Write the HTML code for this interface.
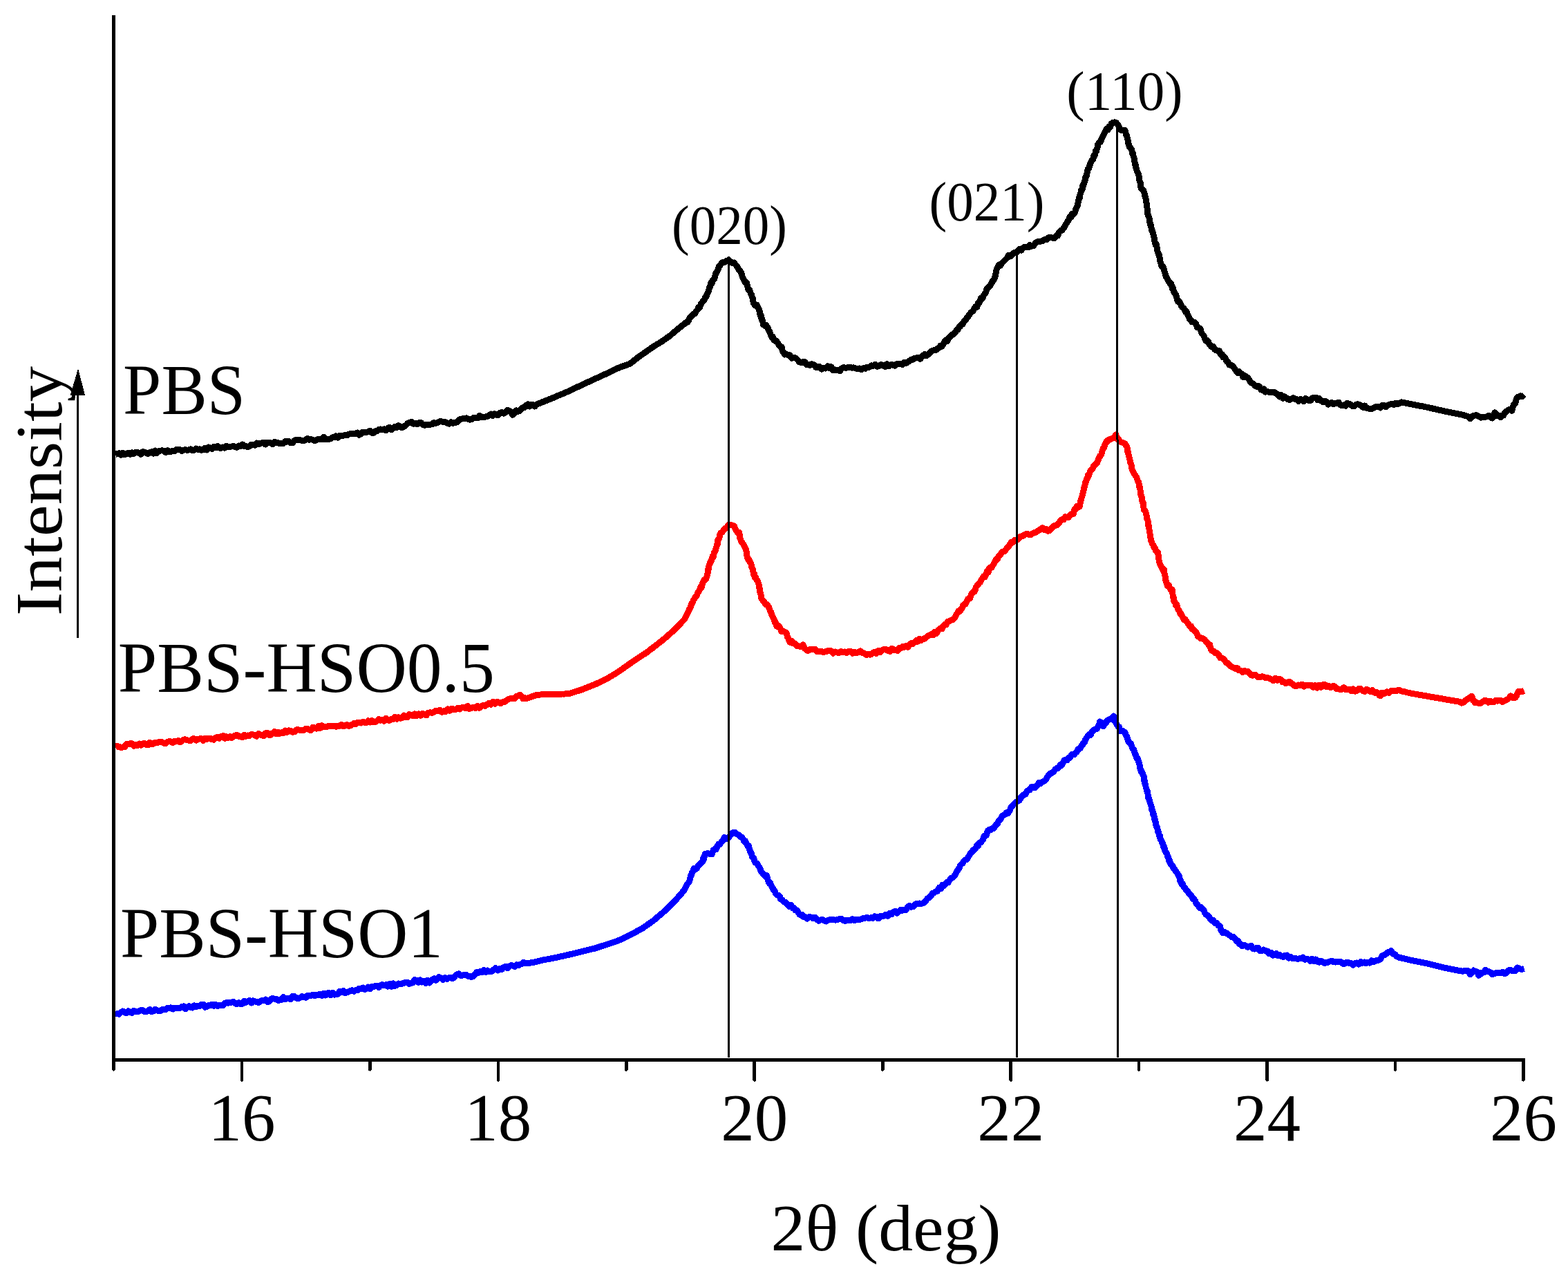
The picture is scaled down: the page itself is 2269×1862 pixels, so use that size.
<!DOCTYPE html>
<html><head><meta charset="utf-8"><style>
html,body{margin:0;padding:0;background:#fff;}
svg{display:block;}
text{font-family:"Liberation Serif","DejaVu Serif",serif;fill:#000;}
.tl{font-size:97px;}
.cl{font-size:103px;}
.pk{font-size:80px;}
</style></head><body>
<svg width="2269" height="1862" viewBox="0 0 2269 1862" shape-rendering="crispEdges">
<rect width="2269" height="1862" fill="#fff"/>
<g fill="none" stroke-linejoin="round" stroke-linecap="butt" stroke-width="9.0">
<path stroke="#000" d="M167.0,657.3 L169.7,656.5 L172.3,655.8 L175.0,658.0 L177.7,655.4 L180.4,657.5 L183.1,656.7 L185.7,655.4 L188.4,657.3 L191.0,655.0 L193.5,656.5 L196.1,654.6 L198.7,654.4 L201.3,655.6 L203.8,657.2 L206.4,653.8 L209.0,654.0 L211.6,655.5 L214.1,656.6 L216.7,654.7 L219.3,653.8 L221.9,656.2 L224.4,652.0 L227.0,655.5 L229.6,652.8 L232.2,652.1 L234.8,651.8 L237.4,652.5 L239.9,654.6 L242.5,651.7 L245.1,653.4 L247.7,653.4 L250.2,652.1 L252.8,652.6 L255.4,650.3 L258.0,650.1 L260.5,650.6 L263.1,652.5 L265.7,651.2 L268.3,650.5 L270.8,651.5 L273.4,650.7 L276.0,649.8 L278.6,651.8 L281.1,651.2 L283.7,649.0 L286.3,650.3 L288.9,649.9 L291.5,651.2 L294.1,650.4 L296.6,648.2 L299.2,651.1 L301.8,647.1 L304.4,648.2 L306.9,649.4 L309.5,646.5 L312.1,647.7 L314.7,645.5 L317.2,648.0 L319.8,648.1 L322.4,647.0 L325.0,648.1 L327.5,645.3 L330.1,646.8 L332.7,646.2 L335.3,646.0 L337.8,645.3 L340.4,646.9 L343.0,647.2 L345.6,645.0 L348.2,645.7 L350.8,642.9 L353.3,645.6 L355.9,645.3 L358.5,646.7 L361.1,645.7 L363.7,643.0 L366.2,643.2 L368.8,644.2 L371.4,641.1 L374.0,642.8 L376.6,641.3 L379.2,640.8 L381.7,640.3 L384.3,643.1 L386.9,640.1 L389.5,640.4 L392.0,640.8 L394.6,642.7 L397.2,639.1 L399.8,640.5 L402.3,640.7 L404.9,642.0 L407.5,641.5 L410.1,641.5 L412.6,638.7 L415.2,639.1 L418.0,638.6 L420.7,640.7 L423.5,640.8 L426.2,637.0 L429.0,636.9 L431.7,636.9 L434.5,636.6 L437.2,637.5 L440.0,637.7 L442.6,636.0 L445.2,634.6 L447.7,636.2 L450.3,635.7 L452.9,636.3 L455.5,637.7 L458.1,636.3 L460.7,635.3 L463.2,635.4 L465.8,635.4 L468.4,632.4 L471.0,635.9 L473.5,635.1 L476.1,635.3 L478.7,634.7 L481.3,632.7 L483.8,632.4 L486.4,630.9 L489.0,633.0 L491.6,630.2 L494.1,630.0 L496.7,630.3 L499.3,629.7 L501.9,630.0 L504.4,628.3 L507.0,627.6 L509.6,627.8 L512.2,627.1 L514.8,627.8 L517.4,625.9 L519.9,629.2 L522.5,627.6 L525.1,625.1 L527.7,625.1 L530.2,625.2 L532.8,624.9 L535.4,623.4 L538.0,626.2 L540.5,626.5 L543.1,623.8 L545.7,623.5 L548.3,621.3 L550.8,621.0 L553.4,621.7 L556.0,620.8 L558.6,622.8 L561.1,619.4 L563.7,618.2 L566.3,621.8 L568.9,619.4 L571.5,617.2 L574.1,618.4 L576.6,615.7 L579.2,617.3 L581.8,618.8 L584.6,617.1 L587.5,615.1 L590.3,612.0 L593.1,611.2 L595.8,610.5 L598.5,613.3 L601.1,612.4 L603.8,613.7 L606.5,611.8 L609.2,611.5 L611.8,614.3 L614.5,615.2 L617.2,614.8 L619.9,614.4 L622.5,614.3 L625.2,613.7 L627.9,611.3 L630.5,612.4 L633.2,611.5 L635.8,609.9 L638.5,609.7 L641.3,610.7 L644.2,610.4 L647.0,612.2 L649.9,613.2 L652.7,610.8 L655.5,612.2 L658.4,611.7 L661.2,610.9 L664.1,607.6 L666.9,606.3 L669.5,605.9 L672.2,605.3 L674.9,604.9 L677.5,606.3 L680.1,607.1 L682.8,606.4 L685.5,604.3 L688.1,604.7 L691.1,604.9 L694.0,601.3 L697.0,603.4 L700.0,604.0 L702.6,603.0 L705.3,602.4 L707.9,600.8 L710.5,599.0 L713.1,601.3 L715.8,598.8 L718.4,600.4 L721.1,600.5 L723.7,597.2 L726.4,596.5 L729.1,598.2 L731.7,596.5 L734.4,593.3 L736.9,594.4 L739.3,595.7 L741.8,600.3 L744.2,598.3 L746.7,593.9 L749.1,595.4 L751.6,594.5 L754.1,592.0 L756.5,589.6 L759.0,589.4 L761.4,586.5 L763.9,585.0 L766.3,588.1 L768.8,585.7 L771.2,585.7 L773.7,588.1 L776.2,585.2 L778.6,584.2 L781.1,583.3 L783.5,582.3 L786.0,581.3 L788.5,580.3 L790.9,579.3 L793.4,578.4 L795.8,577.4 L798.3,576.4 L800.8,575.4 L803.2,574.3 L805.7,573.3 L808.1,572.2 L810.6,571.2 L813.1,570.2 L815.5,569.1 L818.0,568.1 L820.4,567.0 L822.9,566.0 L825.4,564.8 L827.8,563.7 L830.3,562.5 L832.7,561.3 L835.2,560.1 L837.7,559.0 L840.1,557.8 L842.6,556.6 L845.0,555.5 L847.5,554.3 L850.0,553.2 L852.4,552.1 L854.9,551.0 L857.3,549.9 L859.8,548.8 L862.2,547.6 L864.6,546.5 L867.1,545.4 L869.5,544.3 L872.0,543.2 L874.5,542.0 L876.9,540.9 L879.4,539.7 L881.8,538.5 L884.3,537.4 L886.8,536.2 L889.2,535.0 L891.7,533.8 L894.1,532.7 L896.6,531.5 L899.1,530.6 L901.6,529.8 L904.0,529.0 L906.5,528.1 L909.0,527.2 L911.5,526.4 L913.8,524.6 L916.1,522.7 L918.4,520.9 L920.7,519.0 L923.0,517.2 L925.3,515.6 L927.6,514.0 L930.0,512.3 L932.3,510.7 L934.6,509.1 L936.9,507.5 L939.2,505.9 L941.5,504.3 L943.8,502.7 L946.1,501.1 L948.4,499.7 L950.7,498.3 L953.0,496.9 L955.3,495.5 L957.6,494.1 L959.9,492.5 L962.2,490.9 L964.5,489.3 L966.8,487.7 L969.1,486.1 L971.0,484.5 L972.9,482.8 L974.9,481.2 L976.8,479.6 L978.7,477.9 L980.6,476.3 L982.9,474.5 L985.2,472.6 L987.6,470.8 L989.9,468.9 L992.2,466.8 L994.1,466.7 L996.1,464.5 L998.0,459.8 L1000.0,458.0 L1001.9,456.2 L1003.8,454.0 L1005.8,453.5 L1007.7,450.0 L1009.3,448.1 L1011.0,444.2 L1012.6,445.0 L1014.2,440.0 L1015.8,437.8 L1017.4,435.8 L1019.0,434.6 L1020.6,429.9 L1021.8,429.8 L1023.0,425.8 L1024.3,423.7 L1025.5,421.4 L1026.3,416.8 L1027.1,416.2 L1027.9,412.6 L1028.7,409.4 L1029.9,410.7 L1031.1,405.7 L1032.3,404.8 L1033.5,403.7 L1034.6,400.0 L1035.7,396.1 L1036.8,394.0 L1038.0,391.7 L1039.2,390.3 L1040.4,384.9 L1041.6,384.5 L1043.8,381.2 L1045.9,379.4 L1048.1,379.7 L1051.3,377.3 L1054.5,376.4 L1057.2,378.6 L1059.9,380.6 L1062.6,380.0 L1064.2,382.8 L1065.8,384.5 L1067.4,386.7 L1069.0,389.9 L1070.7,391.3 L1072.3,394.0 L1073.4,396.5 L1074.4,401.2 L1075.5,402.8 L1077.1,406.3 L1078.7,409.2 L1080.3,408.9 L1081.4,413.0 L1082.4,417.4 L1083.5,419.6 L1084.5,419.1 L1085.5,421.6 L1086.6,425.6 L1087.6,426.6 L1088.4,429.8 L1089.2,431.5 L1090.0,436.5 L1090.8,439.4 L1093.0,442.1 L1095.1,441.0 L1097.3,445.7 L1098.1,448.0 L1098.9,448.4 L1099.7,454.3 L1100.5,457.3 L1101.3,456.4 L1102.1,462.0 L1102.9,462.0 L1103.7,464.8 L1104.5,469.5 L1106.7,471.2 L1108.8,470.6 L1111.0,474.2 L1112.0,477.0 L1113.0,478.6 L1114.0,480.4 L1115.0,483.4 L1116.7,487.7 L1118.3,487.1 L1120.0,491.9 L1121.9,493.3 L1123.8,493.4 L1125.7,496.7 L1127.6,499.8 L1129.5,501.3 L1131.0,501.7 L1132.5,508.3 L1134.0,509.8 L1135.5,513.1 L1137.0,511.8 L1139.8,513.6 L1142.7,513.8 L1145.6,518.3 L1148.4,517.2 L1151.2,517.9 L1154.1,520.5 L1156.9,523.9 L1159.7,524.8 L1162.2,523.2 L1164.6,523.6 L1167.1,527.8 L1169.5,527.2 L1172.0,528.6 L1174.8,526.8 L1177.7,527.6 L1180.5,531.3 L1183.4,531.1 L1186.2,530.5 L1189.0,534.1 L1191.8,532.6 L1194.7,533.1 L1197.5,529.8 L1200.3,533.0 L1202.7,530.7 L1205.0,535.4 L1207.4,534.8 L1209.8,535.5 L1212.6,535.7 L1215.5,536.6 L1218.3,532.9 L1221.2,531.5 L1224.0,532.5 L1226.8,531.6 L1229.6,531.4 L1232.5,532.1 L1235.3,531.9 L1238.1,533.0 L1240.9,533.3 L1243.8,533.0 L1246.6,534.8 L1249.5,532.6 L1252.3,533.3 L1255.1,531.1 L1258.0,531.1 L1260.8,528.9 L1263.7,529.2 L1266.5,527.4 L1269.3,530.3 L1272.2,529.4 L1275.0,527.6 L1277.9,528.7 L1280.7,530.5 L1283.5,526.7 L1286.4,529.6 L1289.2,527.8 L1292.1,527.9 L1294.9,529.2 L1297.7,526.6 L1300.5,526.6 L1303.4,526.8 L1306.2,527.5 L1309.0,524.1 L1311.4,525.2 L1313.8,523.6 L1316.1,522.2 L1318.5,520.2 L1320.4,520.2 L1323.2,518.3 L1326.0,518.0 L1328.8,517.1 L1331.6,519.4 L1333.8,515.9 L1335.9,514.2 L1338.1,512.6 L1340.3,514.6 L1342.4,513.4 L1344.6,511.3 L1347.2,508.5 L1349.8,507.3 L1352.3,506.5 L1354.9,506.2 L1357.5,503.8 L1359.2,503.0 L1361.0,500.1 L1362.7,501.2 L1364.5,499.1 L1366.2,495.2 L1368.4,492.1 L1370.7,493.6 L1372.9,488.9 L1375.2,487.4 L1377.4,484.1 L1379.1,483.9 L1380.9,482.5 L1382.6,480.7 L1384.3,477.5 L1386.1,477.0 L1387.8,472.9 L1389.5,472.2 L1391.2,469.5 L1393.0,469.0 L1394.7,465.5 L1396.4,463.5 L1397.8,462.3 L1399.2,459.6 L1400.5,458.7 L1401.9,456.0 L1403.3,454.6 L1405.0,452.3 L1406.8,450.7 L1408.5,449.5 L1410.2,445.5 L1412.0,443.3 L1413.7,444.3 L1415.2,438.4 L1416.6,438.6 L1418.1,435.9 L1419.5,431.0 L1421.0,432.2 L1422.4,430.1 L1423.8,426.7 L1425.3,424.8 L1426.7,422.9 L1428.1,417.6 L1429.6,417.0 L1431.0,414.6 L1432.4,413.8 L1433.9,411.3 L1435.3,409.1 L1436.7,405.7 L1438.2,404.7 L1439.6,401.5 L1440.4,398.8 L1441.3,394.0 L1442.1,390.3 L1443.0,388.0 L1443.8,386.2 L1445.7,383.0 L1447.6,384.2 L1449.4,381.0 L1451.3,379.3 L1453.2,377.3 L1455.1,375.5 L1457.4,373.0 L1459.7,369.2 L1461.9,371.0 L1464.2,369.2 L1466.5,366.4 L1469.3,365.2 L1472.2,364.5 L1475.0,360.5 L1477.8,362.1 L1480.3,359.0 L1482.8,357.2 L1485.3,357.0 L1487.9,358.0 L1490.4,354.7 L1492.9,356.1 L1495.4,355.6 L1498.0,352.0 L1500.5,350.0 L1503.3,349.3 L1506.2,349.1 L1509.0,348.3 L1511.8,346.5 L1514.7,346.4 L1517.5,343.7 L1520.3,343.8 L1523.2,344.1 L1525.7,344.8 L1528.2,341.3 L1530.7,341.0 L1532.2,336.5 L1533.8,334.6 L1535.3,333.4 L1536.8,333.1 L1538.6,330.9 L1540.3,328.5 L1542.1,324.6 L1543.6,323.0 L1545.1,320.2 L1546.6,317.7 L1548.1,313.6 L1549.6,314.4 L1551.5,309.1 L1553.4,310.3 L1555.3,307.8 L1557.2,301.5 L1558.1,300.2 L1558.9,298.5 L1559.6,296.6 L1560.3,291.8 L1561.0,288.5 L1561.7,285.7 L1562.4,286.4 L1563.1,280.7 L1563.8,279.8 L1564.5,275.3 L1565.3,274.5 L1566.1,273.9 L1566.9,267.7 L1567.8,268.3 L1568.6,264.4 L1569.4,263.5 L1570.2,260.2 L1571.0,255.6 L1571.9,255.8 L1572.9,251.3 L1573.8,246.6 L1574.7,243.8 L1575.7,243.3 L1576.6,240.4 L1577.6,237.4 L1578.7,234.4 L1579.7,233.0 L1580.8,230.6 L1581.8,230.6 L1582.9,224.6 L1583.9,225.6 L1584.7,223.6 L1585.5,218.0 L1586.3,219.1 L1587.1,215.8 L1587.9,214.2 L1588.7,209.1 L1590.0,207.2 L1591.3,205.0 L1592.6,205.4 L1593.9,201.4 L1595.2,198.1 L1596.8,195.8 L1598.4,192.5 L1600.0,188.8 L1601.6,186.4 L1603.2,187.7 L1604.8,183.3 L1606.5,184.1 L1608.1,179.1 L1610.5,177.5 L1612.9,176.9 L1615.3,177.6 L1617.7,180.4 L1620.2,185.8 L1622.6,188.3 L1625.4,188.8 L1628.2,188.8 L1629.0,192.7 L1629.8,195.5 L1630.6,196.5 L1631.2,200.3 L1631.8,200.4 L1632.5,206.4 L1633.1,208.2 L1634.2,211.9 L1635.3,213.9 L1636.5,214.7 L1637.6,216.1 L1638.7,222.4 L1639.3,221.3 L1640.0,225.2 L1640.6,227.1 L1641.3,229.3 L1641.9,233.7 L1642.5,237.7 L1643.2,237.6 L1643.8,242.4 L1644.4,243.8 L1645.2,247.4 L1646.0,249.1 L1646.8,250.5 L1647.6,252.9 L1648.4,255.5 L1649.0,261.6 L1649.6,262.8 L1650.2,264.6 L1650.8,270.7 L1652.1,273.8 L1653.5,274.0 L1654.8,275.3 L1655.5,278.0 L1656.1,279.9 L1656.8,283.5 L1657.4,284.8 L1658.1,287.9 L1658.6,290.6 L1659.2,294.7 L1659.7,298.8 L1660.0,301.1 L1660.2,302.6 L1660.5,305.5 L1660.7,308.9 L1661.4,310.9 L1662.1,313.4 L1662.8,314.8 L1663.5,318.4 L1664.2,324.1 L1664.8,323.1 L1665.5,327.4 L1666.2,330.6 L1666.9,334.2 L1667.6,334.1 L1668.3,336.8 L1669.0,339.3 L1669.7,342.4 L1670.4,345.2 L1671.0,349.9 L1671.7,352.0 L1672.4,354.7 L1673.1,353.4 L1673.8,356.0 L1674.5,361.5 L1675.2,364.9 L1676.0,365.7 L1676.7,368.7 L1677.4,368.8 L1678.1,373.1 L1678.8,378.0 L1679.6,380.1 L1680.3,382.9 L1681.3,385.8 L1682.3,385.1 L1683.3,386.9 L1684.3,389.6 L1685.4,393.6 L1686.4,396.8 L1687.4,400.4 L1688.4,401.9 L1689.7,404.0 L1691.0,407.0 L1692.3,408.1 L1693.7,411.0 L1695.0,411.2 L1696.3,417.0 L1697.6,417.0 L1698.6,422.5 L1699.6,423.8 L1700.6,424.8 L1701.5,426.4 L1702.5,429.5 L1703.5,433.6 L1704.5,436.4 L1706.0,435.9 L1707.6,437.8 L1709.1,441.9 L1710.6,444.3 L1712.2,445.5 L1713.7,446.9 L1715.2,450.9 L1716.8,450.6 L1718.3,454.2 L1719.8,457.2 L1721.4,461.7 L1722.9,462.6 L1724.8,465.6 L1726.7,465.7 L1728.7,466.6 L1730.6,468.6 L1732.5,473.6 L1734.4,474.4 L1735.7,474.9 L1737.0,475.9 L1738.3,480.2 L1739.6,483.2 L1740.9,484.4 L1742.2,485.9 L1743.5,489.9 L1745.0,493.2 L1746.5,492.2 L1748.1,493.5 L1749.6,497.0 L1751.1,499.5 L1753.4,502.1 L1755.6,501.5 L1757.9,505.7 L1760.2,506.9 L1762.4,507.4 L1764.7,507.6 L1766.4,513.1 L1768.2,512.4 L1769.9,516.8 L1771.6,516.3 L1773.3,518.5 L1775.1,523.0 L1776.8,523.1 L1778.8,528.0 L1780.8,528.0 L1782.8,528.7 L1784.9,530.8 L1786.9,533.7 L1788.9,536.8 L1790.9,539.6 L1792.9,537.6 L1795.0,540.2 L1797.0,540.9 L1799.0,545.8 L1801.0,543.6 L1803.2,544.7 L1805.3,546.3 L1807.5,549.3 L1809.6,553.0 L1811.8,554.5 L1813.9,555.3 L1816.1,558.0 L1818.3,559.2 L1820.4,558.1 L1822.6,559.0 L1824.7,563.8 L1826.9,564.5 L1829.0,562.8 L1831.2,567.1 L1833.7,566.5 L1836.3,567.1 L1838.8,567.5 L1841.3,567.4 L1843.9,567.3 L1846.4,569.1 L1848.9,570.5 L1851.4,574.1 L1854.0,571.5 L1856.5,576.2 L1859.0,573.9 L1861.5,575.6 L1864.0,577.9 L1866.5,578.3 L1869.1,576.9 L1871.6,575.6 L1874.1,577.7 L1876.6,577.6 L1879.2,580.4 L1881.7,577.5 L1884.2,578.6 L1886.7,580.7 L1889.2,576.6 L1891.7,578.0 L1894.2,579.5 L1896.8,579.1 L1899.3,575.6 L1901.8,575.4 L1904.3,575.2 L1906.8,578.7 L1909.3,576.8 L1911.9,580.0 L1914.4,581.7 L1916.9,580.3 L1919.5,581.0 L1922.0,585.0 L1924.5,583.8 L1927.0,582.5 L1929.5,584.7 L1932.0,583.2 L1934.6,583.3 L1937.1,582.3 L1939.6,585.9 L1942.1,586.9 L1944.6,585.9 L1947.1,587.3 L1949.6,583.4 L1952.2,584.4 L1954.7,585.5 L1957.2,587.7 L1959.7,587.8 L1962.3,585.3 L1964.8,584.8 L1967.3,585.7 L1969.8,586.7 L1972.4,589.4 L1974.9,586.9 L1977.4,590.3 L1980.0,590.8 L1982.5,591.9 L1985.0,591.4 L1987.5,590.3 L1990.0,588.8 L1992.5,588.4 L1995.0,588.3 L1997.5,589.9 L2000.0,586.4 L2002.9,586.6 L2005.8,588.7 L2008.6,586.0 L2011.5,584.9 L2014.4,584.3 L2017.2,585.4 L2020.0,583.1 L2022.7,584.8 L2025.5,583.1 L2028.2,581.9 L2030.8,582.4 L2033.5,583.0 L2036.1,583.5 L2038.8,584.0 L2041.4,584.5 L2043.9,585.0 L2046.3,585.5 L2048.8,586.0 L2051.2,586.5 L2053.7,587.0 L2056.2,587.4 L2058.6,587.9 L2061.1,588.4 L2063.5,588.9 L2066.0,589.4 L2068.5,590.0 L2070.9,590.5 L2073.4,591.1 L2075.8,591.6 L2078.3,592.2 L2080.8,592.8 L2083.2,593.3 L2085.7,593.9 L2088.1,594.4 L2090.6,595.0 L2093.1,595.5 L2095.5,596.0 L2098.0,596.5 L2100.4,597.0 L2102.9,597.5 L2105.4,597.9 L2107.8,598.4 L2110.3,598.9 L2112.7,599.4 L2115.2,599.9 L2117.7,600.6 L2120.1,601.4 L2122.6,602.1 L2125.0,602.9 L2127.5,605.7 L2130.6,602.2 L2133.6,601.1 L2136.6,600.8 L2139.7,602.3 L2142.6,604.1 L2145.4,603.7 L2148.3,603.6 L2150.4,603.0 L2152.4,602.5 L2154.5,601.3 L2156.9,603.1 L2159.4,605.1 L2161.2,601.8 L2163.1,596.9 L2166.0,601.8 L2168.8,601.0 L2171.7,603.9 L2173.7,601.3 L2175.6,601.2 L2177.6,597.1 L2179.5,595.6 L2181.5,593.9 L2184.6,592.2 L2187.7,594.2 L2188.9,590.1 L2190.1,586.3 L2191.4,583.9 L2192.6,583.9 L2193.8,579.0 L2195.7,574.7 L2197.5,574.2 L2200.2,572.9 L2202.8,573.8 L2205.5,571.0"/>
<path stroke="#ff0000" d="M167.0,1081.6 L169.7,1079.3 L172.3,1080.4 L175.0,1081.4 L177.7,1080.9 L180.4,1080.7 L183.1,1076.4 L185.7,1076.9 L188.4,1075.6 L191.0,1075.8 L193.5,1079.1 L196.1,1077.3 L198.7,1078.7 L201.3,1076.1 L203.8,1078.1 L206.4,1076.2 L209.0,1075.2 L211.6,1077.4 L214.1,1078.0 L216.7,1074.2 L219.3,1076.2 L221.9,1076.2 L224.4,1074.3 L227.0,1074.8 L229.6,1073.7 L232.2,1073.8 L234.8,1073.9 L237.4,1075.3 L239.9,1075.4 L242.5,1073.3 L245.1,1072.4 L247.7,1073.4 L250.2,1074.6 L252.8,1072.2 L255.4,1072.4 L258.0,1071.6 L260.5,1073.9 L263.1,1072.5 L265.7,1070.0 L268.3,1069.9 L270.8,1070.9 L273.4,1071.2 L276.0,1071.4 L278.6,1068.8 L281.1,1068.9 L283.7,1071.1 L286.3,1069.6 L288.9,1068.8 L291.5,1068.8 L294.1,1071.4 L296.6,1068.4 L299.2,1069.3 L301.8,1068.2 L304.4,1068.2 L306.9,1069.9 L309.5,1070.2 L312.1,1067.2 L314.7,1066.2 L317.2,1068.3 L319.8,1065.7 L322.4,1064.6 L325.0,1068.3 L327.5,1065.9 L330.1,1067.4 L332.7,1065.5 L335.3,1067.4 L337.8,1065.4 L340.4,1064.0 L343.0,1063.2 L345.6,1065.5 L348.2,1065.7 L350.8,1066.8 L353.3,1063.0 L355.9,1065.3 L358.5,1064.0 L361.1,1064.4 L363.7,1062.5 L366.2,1062.9 L368.8,1063.7 L371.4,1065.2 L374.0,1061.4 L376.6,1062.8 L379.2,1063.9 L381.7,1064.4 L384.3,1060.7 L386.9,1060.2 L389.5,1063.4 L392.0,1063.2 L394.6,1060.7 L397.2,1058.5 L399.8,1062.0 L402.3,1059.3 L404.9,1061.3 L407.5,1059.7 L410.1,1060.3 L412.6,1057.0 L415.2,1059.5 L418.0,1056.8 L420.7,1057.4 L423.5,1059.2 L426.2,1058.9 L429.0,1055.9 L431.7,1055.9 L434.5,1056.5 L437.2,1056.9 L440.0,1056.1 L442.6,1054.4 L445.2,1054.5 L447.7,1056.1 L450.3,1056.3 L452.9,1052.0 L455.5,1053.8 L458.1,1054.2 L460.7,1050.5 L463.2,1053.5 L465.8,1049.8 L468.4,1051.4 L471.0,1051.2 L473.5,1051.4 L476.1,1050.0 L478.7,1050.4 L481.3,1051.0 L483.8,1050.3 L486.4,1051.3 L489.0,1050.3 L491.6,1050.2 L494.1,1048.3 L496.7,1050.8 L499.3,1049.9 L501.9,1048.4 L504.4,1050.3 L507.0,1050.0 L509.6,1048.2 L512.2,1046.5 L514.8,1047.4 L517.4,1045.4 L519.9,1045.1 L522.5,1046.1 L525.1,1044.2 L527.7,1045.4 L530.2,1045.3 L532.8,1042.8 L535.4,1045.1 L538.0,1042.3 L540.5,1044.7 L543.1,1044.5 L545.7,1043.0 L548.3,1040.6 L550.8,1042.2 L553.4,1041.3 L556.0,1043.3 L558.6,1039.3 L561.1,1042.0 L563.7,1042.2 L566.3,1040.5 L568.9,1040.5 L571.5,1037.3 L574.1,1040.3 L576.6,1037.7 L579.2,1039.3 L581.8,1038.6 L584.4,1035.0 L587.0,1037.4 L589.6,1037.6 L592.2,1033.5 L594.8,1034.4 L597.4,1035.8 L600.0,1032.8 L602.8,1035.9 L605.7,1033.0 L608.5,1035.3 L611.4,1032.2 L614.2,1033.6 L617.0,1034.9 L619.9,1031.2 L622.7,1030.8 L625.6,1031.3 L628.4,1029.9 L631.2,1028.1 L634.0,1028.2 L636.9,1027.5 L639.7,1030.4 L642.5,1028.7 L645.3,1029.4 L648.2,1025.9 L651.0,1028.3 L653.9,1025.1 L656.7,1026.6 L659.5,1026.4 L662.4,1024.4 L665.2,1026.0 L668.1,1023.9 L670.9,1023.3 L673.7,1024.7 L676.6,1021.5 L679.4,1025.5 L682.3,1024.1 L685.1,1023.2 L687.9,1024.4 L690.7,1021.5 L693.6,1024.1 L696.4,1021.7 L699.2,1020.2 L702.0,1021.3 L704.9,1019.1 L707.7,1017.3 L710.6,1019.1 L713.4,1015.3 L716.2,1018.3 L719.1,1015.3 L721.9,1016.6 L724.8,1017.7 L727.6,1015.5 L730.4,1015.3 L733.3,1013.2 L736.1,1011.2 L739.0,1010.8 L741.8,1010.8 L743.9,1011.0 L746.0,1008.5 L748.2,1007.0 L750.3,1006.9 L752.4,1005.2 L754.5,1007.2 L756.7,1010.7 L758.8,1009.5 L761.4,1010.7 L764.1,1009.8 L766.7,1008.9 L769.3,1007.9 L771.9,1007.0 L774.6,1006.1 L777.2,1005.2 L779.9,1005.1 L782.5,1005.0 L785.2,1004.9 L787.9,1004.9 L790.5,1004.8 L793.2,1004.7 L795.8,1004.6 L798.5,1004.5 L801.2,1004.4 L803.9,1004.3 L806.5,1004.3 L809.2,1004.2 L811.9,1004.1 L814.6,1004.0 L817.2,1004.0 L819.9,1003.9 L822.6,1003.8 L825.2,1003.0 L827.9,1002.2 L830.5,1001.4 L833.1,1000.5 L835.7,999.7 L838.4,998.9 L841.0,998.1 L843.4,997.2 L845.7,996.2 L848.1,995.3 L850.5,994.3 L852.8,993.4 L855.2,992.4 L857.6,991.5 L859.9,990.5 L862.3,989.6 L864.8,988.4 L867.4,987.1 L869.9,985.9 L872.4,984.6 L874.9,983.4 L877.5,982.1 L880.0,980.9 L882.3,979.5 L884.6,978.1 L886.9,976.8 L889.2,975.4 L891.5,974.0 L893.8,972.6 L896.1,971.0 L898.4,969.4 L900.7,967.8 L903.0,966.1 L905.3,964.5 L907.6,962.9 L909.9,961.3 L912.2,959.7 L914.5,958.1 L916.9,956.5 L919.2,954.9 L921.5,953.3 L923.8,951.8 L926.1,950.3 L928.4,948.8 L930.7,947.3 L933.0,945.8 L935.3,944.3 L937.6,942.6 L939.9,940.8 L942.2,939.1 L944.5,937.4 L946.8,935.6 L949.1,933.9 L951.1,932.3 L953.0,930.7 L955.0,929.1 L957.0,927.6 L959.0,926.0 L960.9,924.4 L962.9,922.8 L964.9,921.0 L966.9,919.3 L968.9,917.5 L970.8,915.7 L972.8,913.9 L974.8,912.2 L976.8,910.4 L978.5,908.6 L980.2,906.8 L982.0,905.0 L983.7,903.1 L985.4,901.3 L987.1,899.5 L988.9,897.7 L990.6,895.9 L991.7,893.5 L992.9,891.2 L994.0,888.9 L995.2,886.5 L996.3,884.1 L997.4,881.8 L998.6,879.5 L999.7,877.1 L1001.0,872.5 L1002.3,871.6 L1003.5,868.1 L1004.8,866.8 L1006.1,863.8 L1007.4,862.9 L1008.7,860.6 L1010.0,856.4 L1011.3,855.9 L1012.6,852.8 L1013.9,848.9 L1015.2,850.0 L1016.4,844.5 L1017.7,841.7 L1019.0,839.0 L1020.2,839.0 L1021.5,837.6 L1022.7,834.8 L1023.9,830.7 L1024.3,827.4 L1024.7,823.7 L1025.1,823.9 L1025.5,820.9 L1026.3,817.5 L1027.1,816.4 L1027.9,813.2 L1028.7,812.9 L1029.9,809.6 L1031.1,805.0 L1032.3,805.5 L1033.5,799.3 L1034.5,798.6 L1035.5,795.2 L1036.6,791.7 L1037.6,788.1 L1038.1,788.0 L1038.7,781.4 L1039.2,780.5 L1040.5,779.6 L1041.9,773.4 L1043.2,771.0 L1045.1,770.1 L1047.0,766.9 L1048.9,764.8 L1051.7,763.6 L1054.5,758.8 L1057.3,759.8 L1060.2,760.1 L1062.6,761.4 L1065.0,767.5 L1066.6,769.2 L1068.2,771.1 L1069.8,770.1 L1070.4,776.5 L1070.9,778.7 L1071.5,780.1 L1072.8,784.1 L1074.2,785.5 L1075.5,787.2 L1076.8,789.4 L1078.2,792.6 L1079.5,794.5 L1080.1,798.4 L1080.7,802.8 L1081.3,805.2 L1081.9,808.4 L1083.1,810.1 L1084.3,810.3 L1085.6,813.8 L1086.8,815.5 L1087.6,819.9 L1088.4,821.6 L1089.2,823.2 L1090.0,827.7 L1090.8,831.6 L1091.6,830.7 L1092.4,836.0 L1093.2,834.7 L1094.8,838.4 L1096.5,841.0 L1098.1,845.9 L1098.5,849.4 L1098.9,851.1 L1099.3,851.9 L1099.7,857.0 L1100.3,857.2 L1100.9,859.4 L1101.5,865.0 L1102.1,866.4 L1104.0,868.8 L1105.8,870.9 L1107.7,874.4 L1110.2,874.6 L1112.6,878.6 L1113.6,880.8 L1114.6,884.3 L1115.6,885.3 L1116.6,889.4 L1117.6,891.5 L1118.8,893.2 L1119.9,895.6 L1121.1,900.2 L1122.3,900.6 L1124.0,906.2 L1125.6,904.7 L1127.2,906.1 L1128.9,908.4 L1130.8,913.7 L1132.7,912.8 L1134.6,913.6 L1136.5,914.8 L1138.4,916.6 L1139.6,921.8 L1140.8,923.9 L1141.9,926.6 L1143.1,929.1 L1145.4,927.4 L1147.8,930.8 L1150.2,931.0 L1152.5,934.2 L1155.7,934.8 L1158.8,935.8 L1162.0,932.8 L1164.3,938.0 L1166.7,939.8 L1169.1,941.6 L1171.4,939.6 L1174.2,940.0 L1177.1,939.6 L1179.9,939.3 L1182.8,942.8 L1185.6,942.7 L1188.4,942.3 L1191.3,943.5 L1194.1,943.0 L1197.0,941.9 L1199.8,941.4 L1202.6,941.8 L1205.5,945.1 L1208.3,943.0 L1211.2,943.9 L1214.0,944.8 L1216.8,942.6 L1219.6,943.3 L1222.5,943.0 L1225.3,944.5 L1228.1,942.6 L1230.9,942.4 L1233.8,945.2 L1236.6,943.2 L1239.5,944.7 L1242.3,943.7 L1245.1,941.9 L1248.0,944.3 L1250.8,945.2 L1253.7,947.4 L1256.5,946.3 L1259.3,947.1 L1262.2,945.6 L1265.0,943.5 L1267.9,945.6 L1270.7,941.4 L1273.5,944.0 L1276.4,940.6 L1279.2,939.3 L1282.1,939.6 L1284.9,941.5 L1287.7,942.4 L1290.5,938.1 L1293.4,940.3 L1296.2,940.3 L1299.0,941.6 L1301.4,937.5 L1303.8,937.5 L1306.1,935.4 L1308.5,936.2 L1311.5,934.4 L1313.8,936.3 L1316.1,932.2 L1318.4,930.8 L1320.7,931.7 L1323.0,929.7 L1325.5,926.8 L1327.9,928.0 L1330.4,924.4 L1332.9,926.4 L1335.4,924.9 L1337.8,924.1 L1340.3,922.3 L1342.8,919.9 L1345.2,919.0 L1347.7,917.8 L1350.2,918.8 L1352.7,914.1 L1355.1,916.5 L1357.6,911.5 L1359.5,910.4 L1361.4,908.7 L1363.3,909.6 L1365.3,905.9 L1367.2,903.5 L1369.1,903.8 L1371.4,899.3 L1373.7,898.7 L1376.0,897.4 L1378.3,896.7 L1380.6,895.1 L1382.3,892.5 L1383.9,889.0 L1385.6,886.8 L1387.2,883.9 L1388.9,884.8 L1390.5,881.9 L1392.2,880.1 L1393.8,875.4 L1395.5,874.5 L1397.1,873.8 L1398.8,870.8 L1400.4,866.7 L1402.1,866.1 L1403.7,865.8 L1405.1,860.8 L1406.6,858.4 L1408.0,856.7 L1409.5,856.3 L1410.9,854.8 L1412.3,849.6 L1413.8,847.4 L1415.2,845.7 L1416.8,843.7 L1418.5,842.3 L1420.1,838.4 L1421.8,836.8 L1423.4,833.9 L1425.1,835.0 L1426.7,831.6 L1428.3,826.5 L1430.0,828.0 L1431.6,821.9 L1433.3,820.9 L1434.9,821.2 L1436.6,818.1 L1438.2,815.5 L1439.9,812.2 L1441.5,809.2 L1443.2,809.2 L1444.8,804.9 L1446.5,803.4 L1448.1,802.2 L1449.8,798.6 L1451.7,798.1 L1453.6,797.7 L1455.5,795.2 L1457.5,792.2 L1459.4,790.7 L1461.3,787.8 L1463.6,784.4 L1465.9,784.5 L1468.2,781.6 L1470.5,781.1 L1472.9,780.4 L1475.2,776.8 L1477.6,776.1 L1480.0,775.4 L1483.2,773.5 L1486.3,772.2 L1489.5,773.9 L1491.8,773.5 L1494.2,772.0 L1496.6,770.6 L1498.9,770.3 L1501.3,768.4 L1503.7,767.2 L1506.0,765.3 L1508.4,763.6 L1511.1,766.4 L1513.7,765.5 L1516.4,768.3 L1518.4,767.9 L1520.5,765.5 L1522.5,763.1 L1526.0,760.3 L1529.6,759.9 L1531.4,757.6 L1533.2,756.0 L1534.9,752.7 L1536.7,751.5 L1539.1,751.8 L1541.5,747.7 L1543.8,748.9 L1546.2,748.6 L1548.6,744.9 L1550.9,743.3 L1553.3,743.4 L1554.9,736.9 L1556.4,736.8 L1558.0,732.7 L1560.2,733.8 L1562.4,732.9 L1563.1,728.4 L1563.8,723.8 L1564.5,723.2 L1565.1,720.4 L1565.8,718.5 L1566.5,714.9 L1567.2,712.7 L1567.8,710.9 L1568.5,706.8 L1569.2,703.7 L1569.8,703.4 L1570.5,697.4 L1571.5,697.1 L1572.4,693.4 L1573.4,692.6 L1574.3,687.4 L1575.3,688.7 L1576.8,683.9 L1578.2,680.4 L1579.7,679.3 L1581.1,677.8 L1582.6,674.0 L1584.2,673.3 L1585.8,671.0 L1587.4,669.8 L1589.0,665.8 L1590.2,662.6 L1591.5,659.6 L1592.7,659.1 L1593.9,657.1 L1595.1,652.5 L1596.3,648.3 L1597.5,648.1 L1598.7,643.4 L1600.1,640.4 L1601.6,637.8 L1603.0,638.4 L1604.4,636.4 L1607.2,635.2 L1610.0,634.1 L1612.4,632.5 L1614.8,629.0 L1616.4,634.6 L1618.1,634.4 L1619.7,638.0 L1622.1,639.6 L1624.5,640.4 L1626.4,641.0 L1628.3,642.4 L1630.2,645.7 L1631.0,647.1 L1631.8,653.4 L1632.6,654.6 L1633.2,659.6 L1633.8,659.8 L1634.4,663.1 L1635.0,665.4 L1635.8,669.4 L1636.6,671.5 L1637.4,673.9 L1638.2,679.8 L1639.0,680.5 L1639.8,683.1 L1641.4,685.5 L1643.1,688.4 L1644.7,690.3 L1645.8,693.9 L1646.8,696.7 L1647.9,698.1 L1648.5,703.6 L1649.1,706.3 L1649.7,705.8 L1650.3,712.2 L1650.9,715.6 L1651.5,718.1 L1652.1,718.3 L1652.7,724.4 L1653.3,726.5 L1654.0,726.8 L1654.6,729.8 L1655.2,737.0 L1656.0,738.1 L1656.8,738.7 L1657.6,740.5 L1658.4,743.1 L1659.2,745.9 L1659.8,751.0 L1660.4,751.7 L1661.0,753.5 L1661.5,759.5 L1662.1,761.6 L1662.7,761.5 L1663.1,767.3 L1663.5,768.7 L1664.0,772.0 L1664.4,774.1 L1664.8,777.7 L1665.2,779.9 L1665.7,782.7 L1666.1,782.5 L1667.4,786.9 L1668.7,788.5 L1670.0,791.8 L1671.4,792.7 L1672.7,797.0 L1674.0,797.8 L1675.3,798.9 L1675.7,801.2 L1676.1,803.3 L1676.4,807.4 L1676.8,808.0 L1677.2,812.3 L1677.6,813.3 L1679.0,817.2 L1680.4,819.5 L1681.8,822.0 L1683.2,825.7 L1684.6,824.2 L1685.1,830.4 L1685.6,831.2 L1686.1,834.1 L1686.5,837.0 L1687.0,840.3 L1687.5,840.7 L1688.0,843.3 L1689.6,848.0 L1691.2,846.4 L1692.9,851.2 L1694.5,853.5 L1696.1,853.1 L1696.7,858.2 L1697.2,861.0 L1697.8,864.6 L1698.4,864.5 L1698.9,869.8 L1699.5,870.2 L1700.7,872.4 L1701.8,876.5 L1703.0,875.0 L1704.1,880.4 L1705.2,882.3 L1706.4,883.3 L1707.8,887.9 L1709.2,888.0 L1710.5,890.8 L1711.9,893.3 L1713.3,896.7 L1715.0,896.1 L1716.8,899.0 L1718.5,900.9 L1720.2,903.4 L1722.0,906.5 L1723.7,906.1 L1725.3,910.4 L1727.0,910.5 L1728.6,912.9 L1730.3,913.9 L1731.9,916.9 L1733.6,920.9 L1735.2,921.5 L1737.3,923.6 L1739.4,923.1 L1741.6,924.6 L1743.7,926.0 L1745.8,928.8 L1747.9,930.6 L1749.2,933.6 L1750.6,932.6 L1751.9,938.0 L1753.2,941.0 L1754.6,941.9 L1755.9,942.0 L1758.4,944.6 L1760.8,944.8 L1763.2,947.0 L1765.7,951.7 L1768.1,951.8 L1770.6,953.5 L1772.6,956.1 L1774.7,958.7 L1776.7,959.5 L1778.8,961.6 L1780.8,963.7 L1783.2,965.2 L1785.7,966.0 L1788.2,967.5 L1790.6,966.7 L1793.0,969.9 L1795.5,970.2 L1798.2,972.4 L1800.9,970.3 L1803.6,971.5 L1806.4,971.7 L1809.1,975.8 L1811.8,977.2 L1814.5,976.9 L1817.0,976.4 L1819.4,979.1 L1821.8,979.7 L1824.3,979.4 L1826.8,978.8 L1829.2,979.7 L1831.9,980.7 L1834.7,980.7 L1837.4,981.7 L1840.2,983.1 L1842.9,984.8 L1845.6,981.4 L1848.4,984.1 L1851.1,982.3 L1853.5,983.3 L1856.0,987.0 L1858.4,986.6 L1860.9,988.8 L1863.3,987.3 L1865.8,986.1 L1868.2,988.4 L1870.7,989.9 L1873.1,992.1 L1875.8,992.8 L1878.6,991.0 L1881.3,991.2 L1884.1,990.2 L1886.8,993.1 L1889.6,991.6 L1892.3,991.8 L1895.1,991.7 L1897.8,991.4 L1900.6,994.3 L1903.3,991.6 L1906.1,995.2 L1908.8,991.1 L1911.6,994.4 L1914.3,990.9 L1917.1,990.3 L1919.8,993.8 L1922.6,992.2 L1925.3,994.8 L1928.0,992.8 L1930.8,992.7 L1933.5,996.3 L1936.3,996.5 L1939.0,997.6 L1941.8,997.3 L1944.5,994.7 L1947.2,997.4 L1950.0,998.0 L1952.8,997.2 L1955.5,999.6 L1958.2,996.8 L1961.0,1000.2 L1963.8,999.3 L1966.5,996.4 L1969.2,996.6 L1972.0,999.6 L1974.8,1000.5 L1977.5,997.5 L1980.2,998.7 L1983.0,1000.7 L1985.8,998.6 L1988.6,1002.1 L1990.8,1002.0 L1992.9,1001.7 L1995.0,1004.6 L1997.2,1007.0 L2000.0,1002.3 L2003.5,1003.3 L2007.0,1000.8 L2009.9,1002.7 L2012.7,999.7 L2015.6,999.9 L2018.9,999.9 L2022.2,998.9 L2025.5,998.8 L2028.2,999.9 L2030.8,1000.5 L2033.5,1001.1 L2036.1,1001.8 L2038.8,1002.4 L2041.4,1003.0 L2044.1,1003.5 L2046.9,1004.0 L2049.6,1004.4 L2052.3,1004.9 L2055.1,1005.4 L2057.8,1005.9 L2060.5,1006.3 L2063.3,1006.8 L2066.0,1007.3 L2068.7,1007.8 L2071.5,1008.3 L2074.2,1008.7 L2076.9,1009.2 L2079.7,1009.7 L2082.4,1010.2 L2085.1,1010.6 L2087.9,1011.1 L2090.6,1011.6 L2093.3,1012.1 L2096.1,1012.6 L2098.8,1013.0 L2101.5,1013.5 L2104.3,1014.0 L2107.0,1014.5 L2109.7,1014.9 L2112.5,1015.4 L2115.2,1017.2 L2118.2,1015.7 L2121.3,1012.9 L2124.2,1011.1 L2127.0,1009.1 L2129.9,1007.3 L2131.4,1013.3 L2133.0,1014.0 L2134.6,1016.6 L2136.1,1016.4 L2138.5,1017.0 L2141.0,1018.0 L2143.4,1016.8 L2145.9,1015.1 L2148.3,1013.3 L2151.0,1014.0 L2153.7,1016.3 L2156.5,1014.3 L2159.2,1015.9 L2161.9,1015.7 L2164.3,1013.3 L2166.8,1014.2 L2169.2,1013.1 L2171.7,1013.1 L2174.2,1015.5 L2176.3,1014.3 L2178.5,1013.2 L2180.7,1012.4 L2182.8,1010.9 L2186.1,1006.8 L2189.3,1009.8 L2192.6,1009.3 L2194.1,1007.4 L2195.6,1003.9 L2197.2,1000.5 L2198.7,1000.8 L2202.1,1000.7 L2205.5,999.3"/>
<path stroke="#0000ff" d="M167.0,1465.9 L169.7,1466.4 L172.3,1467.2 L175.0,1464.4 L177.7,1463.0 L180.4,1464.8 L183.1,1465.6 L185.7,1462.7 L188.4,1464.8 L191.0,1465.5 L193.5,1462.3 L196.1,1463.8 L198.7,1464.0 L201.3,1462.9 L203.8,1461.6 L206.4,1461.7 L209.0,1463.8 L211.6,1463.8 L214.1,1462.3 L216.7,1460.5 L219.3,1463.4 L221.9,1463.0 L224.4,1460.4 L227.0,1461.6 L229.6,1462.8 L232.2,1462.5 L234.8,1460.6 L237.4,1460.2 L239.9,1460.4 L242.5,1458.4 L245.1,1458.1 L247.7,1457.9 L250.2,1460.0 L252.8,1458.3 L255.4,1459.0 L258.0,1458.1 L260.5,1458.4 L263.1,1456.6 L265.7,1455.9 L268.3,1459.9 L270.8,1456.9 L273.4,1455.6 L276.0,1457.6 L278.6,1458.1 L281.1,1455.0 L283.7,1456.7 L286.3,1455.3 L288.9,1455.9 L291.5,1453.4 L294.1,1453.2 L296.6,1457.2 L299.2,1456.4 L301.8,1454.4 L304.4,1454.6 L306.9,1453.1 L309.5,1455.2 L312.1,1453.4 L314.7,1455.5 L317.2,1454.5 L319.8,1454.6 L322.4,1455.0 L325.0,1451.7 L327.5,1450.6 L330.1,1451.1 L332.7,1450.7 L335.3,1450.0 L337.8,1449.6 L340.4,1451.6 L343.0,1452.7 L345.6,1450.6 L348.2,1452.5 L350.8,1452.1 L353.3,1448.1 L355.9,1450.2 L358.5,1449.0 L361.1,1447.6 L363.7,1451.1 L366.2,1447.9 L368.8,1449.0 L371.4,1449.2 L374.0,1450.4 L376.6,1448.9 L379.2,1447.5 L381.7,1447.6 L384.3,1446.1 L386.9,1449.4 L389.5,1449.2 L392.0,1445.5 L394.6,1444.4 L397.2,1445.1 L399.8,1445.2 L402.3,1447.3 L404.9,1447.0 L407.5,1446.3 L410.1,1442.5 L412.6,1445.5 L415.2,1444.8 L418.0,1444.4 L420.7,1445.7 L423.5,1441.4 L426.2,1441.6 L429.0,1444.1 L431.7,1444.8 L434.5,1443.4 L437.2,1441.6 L440.0,1442.7 L442.6,1443.2 L445.2,1440.1 L447.7,1440.8 L450.3,1440.2 L452.9,1439.4 L455.5,1440.7 L458.1,1439.1 L460.7,1439.1 L463.2,1438.4 L465.8,1440.5 L468.4,1437.4 L471.0,1440.1 L473.5,1437.4 L476.1,1436.3 L478.7,1439.8 L481.3,1436.3 L483.8,1439.1 L486.4,1438.4 L489.0,1438.1 L491.6,1434.4 L494.1,1435.4 L496.7,1433.4 L499.3,1436.7 L501.9,1435.9 L504.4,1434.6 L507.0,1433.5 L509.6,1432.6 L512.2,1434.3 L514.8,1432.4 L517.4,1432.7 L519.9,1430.2 L522.5,1430.2 L525.1,1429.0 L527.7,1431.5 L530.2,1430.3 L532.8,1428.1 L535.4,1430.8 L538.0,1427.7 L540.5,1427.9 L543.1,1426.3 L545.7,1426.4 L548.3,1428.4 L550.8,1425.7 L553.4,1424.5 L556.0,1425.8 L558.6,1424.8 L561.1,1427.2 L563.7,1423.5 L566.3,1427.2 L568.9,1422.9 L571.5,1426.4 L574.1,1425.2 L576.6,1423.0 L579.2,1424.0 L581.8,1423.0 L584.4,1422.2 L587.0,1421.2 L589.6,1421.3 L592.2,1423.4 L594.8,1422.7 L597.4,1421.7 L600.0,1417.4 L602.7,1418.5 L605.3,1421.3 L608.0,1417.8 L610.6,1420.9 L613.3,1419.2 L616.0,1422.4 L618.6,1418.4 L621.3,1422.1 L623.6,1419.0 L626.0,1417.2 L628.3,1415.7 L630.7,1418.4 L633.0,1416.1 L635.4,1413.6 L638.2,1415.0 L641.1,1417.4 L643.9,1414.6 L646.8,1416.4 L649.6,1414.8 L652.0,1414.0 L654.3,1415.7 L656.7,1414.5 L659.1,1411.3 L661.4,1409.8 L663.8,1408.9 L666.5,1411.4 L669.1,1411.1 L671.8,1410.3 L674.5,1410.2 L677.1,1412.1 L679.8,1412.7 L682.4,1413.4 L685.1,1412.6 L687.5,1409.0 L689.8,1406.5 L692.2,1407.5 L694.9,1405.7 L697.5,1406.8 L700.1,1403.5 L702.8,1406.5 L705.5,1404.0 L708.1,1405.9 L710.8,1405.7 L713.4,1403.7 L717.0,1400.8 L720.5,1404.0 L723.3,1401.5 L726.1,1402.6 L728.9,1399.4 L731.6,1398.4 L734.4,1400.7 L737.2,1398.0 L740.0,1396.5 L742.5,1397.4 L745.1,1398.4 L747.6,1395.8 L750.1,1396.9 L752.6,1395.3 L755.1,1394.4 L757.6,1392.4 L760.1,1393.8 L762.7,1393.5 L765.2,1393.3 L767.7,1393.0 L770.2,1392.8 L772.7,1392.2 L775.3,1391.5 L777.8,1390.9 L780.3,1390.3 L782.9,1389.6 L785.4,1389.0 L787.9,1388.5 L790.4,1388.1 L793.0,1387.7 L795.5,1387.2 L798.0,1386.8 L800.5,1386.3 L803.0,1385.7 L805.5,1385.2 L808.0,1384.6 L810.6,1384.0 L813.1,1383.5 L815.6,1382.9 L818.1,1382.3 L820.6,1381.8 L823.2,1381.2 L825.7,1380.6 L828.2,1380.1 L830.7,1379.5 L833.2,1378.9 L835.8,1378.2 L838.3,1377.6 L840.8,1377.0 L843.4,1376.3 L845.9,1375.7 L848.4,1375.1 L850.9,1374.5 L853.5,1373.8 L856.0,1373.2 L858.5,1372.6 L861.0,1372.0 L863.5,1371.2 L866.0,1370.4 L868.5,1369.5 L871.1,1368.7 L873.6,1367.9 L876.1,1367.1 L878.6,1366.3 L881.1,1365.4 L883.7,1364.6 L886.2,1363.8 L888.7,1362.9 L891.2,1362.1 L894.1,1360.9 L897.1,1359.8 L900.0,1358.6 L902.5,1357.3 L905.0,1356.1 L907.5,1354.8 L909.9,1353.6 L912.4,1352.3 L914.9,1351.1 L917.4,1349.7 L919.9,1348.4 L922.4,1347.0 L924.9,1345.6 L927.4,1344.3 L929.9,1342.9 L932.0,1341.4 L934.2,1339.9 L936.3,1338.4 L938.5,1336.9 L940.6,1335.4 L942.8,1333.9 L944.9,1332.4 L947.0,1330.6 L949.2,1328.8 L951.3,1327.0 L953.5,1325.1 L955.6,1323.3 L957.8,1321.5 L959.9,1319.7 L961.8,1317.9 L963.6,1316.1 L965.5,1314.3 L967.4,1312.6 L969.3,1310.8 L971.1,1309.0 L973.0,1307.2 L974.9,1305.4 L976.6,1303.5 L978.2,1301.6 L979.9,1299.7 L981.6,1297.8 L983.2,1295.8 L984.9,1293.9 L986.6,1292.0 L988.2,1290.1 L989.9,1288.2 L991.1,1285.8 L992.4,1283.5 L993.6,1281.1 L994.8,1278.7 L996.1,1277.3 L997.3,1275.4 L998.3,1272.9 L999.2,1267.9 L1000.2,1266.9 L1001.1,1262.8 L1002.1,1261.7 L1004.2,1256.5 L1006.4,1258.0 L1008.5,1256.2 L1010.5,1252.2 L1012.5,1250.2 L1014.6,1248.3 L1016.6,1246.3 L1017.6,1241.6 L1018.6,1243.4 L1019.6,1237.7 L1020.6,1235.1 L1024.2,1234.8 L1027.9,1235.4 L1030.1,1235.7 L1032.2,1230.1 L1034.4,1228.2 L1036.2,1228.7 L1038.0,1224.2 L1039.8,1221.2 L1041.6,1221.5 L1043.2,1219.4 L1044.8,1217.2 L1046.5,1216.0 L1048.1,1211.4 L1051.3,1213.5 L1054.5,1211.6 L1058.5,1206.2 L1061.0,1204.5 L1063.4,1204.2 L1065.3,1206.1 L1067.1,1207.0 L1069.0,1208.1 L1071.2,1210.8 L1073.3,1210.9 L1075.5,1214.3 L1077.1,1217.7 L1078.7,1216.9 L1080.3,1221.0 L1081.9,1224.0 L1083.5,1223.7 L1084.5,1229.2 L1085.5,1232.3 L1086.4,1232.5 L1087.4,1235.2 L1088.4,1239.6 L1089.7,1240.5 L1091.0,1242.2 L1092.2,1246.8 L1093.5,1248.4 L1094.8,1248.7 L1096.4,1250.7 L1098.0,1253.5 L1099.7,1256.3 L1101.3,1261.1 L1102.9,1262.3 L1104.5,1264.7 L1106.2,1266.2 L1107.8,1268.3 L1109.4,1266.7 L1110.7,1271.2 L1112.0,1275.6 L1113.2,1277.9 L1114.5,1277.3 L1115.8,1280.5 L1117.1,1283.8 L1118.4,1285.0 L1119.7,1288.2 L1121.0,1288.6 L1122.3,1292.6 L1124.4,1295.1 L1126.6,1295.1 L1128.7,1297.8 L1129.5,1301.0 L1131.8,1302.0 L1134.0,1304.6 L1136.3,1305.2 L1138.5,1307.9 L1140.8,1310.1 L1142.8,1311.7 L1144.9,1309.5 L1146.9,1313.7 L1149.0,1313.6 L1151.0,1317.0 L1153.1,1316.8 L1155.0,1319.7 L1156.9,1323.1 L1158.7,1323.4 L1160.6,1323.5 L1162.5,1326.4 L1165.3,1326.4 L1168.2,1329.0 L1171.0,1326.5 L1173.9,1327.0 L1176.7,1328.8 L1179.4,1327.2 L1182.1,1330.0 L1184.8,1332.2 L1187.5,1330.9 L1190.2,1330.5 L1192.9,1332.1 L1195.6,1333.0 L1198.3,1331.1 L1201.0,1330.7 L1203.7,1330.5 L1206.4,1330.9 L1209.1,1331.1 L1211.8,1330.3 L1214.5,1329.9 L1217.2,1329.2 L1219.9,1331.2 L1222.6,1332.5 L1225.3,1331.5 L1228.0,1331.3 L1230.7,1331.7 L1233.4,1329.7 L1236.1,1331.7 L1238.8,1330.3 L1241.5,1330.4 L1244.2,1330.4 L1246.9,1329.5 L1249.6,1328.5 L1252.3,1328.0 L1255.0,1327.6 L1257.7,1328.6 L1260.4,1327.8 L1263.1,1328.4 L1265.8,1325.7 L1268.5,1326.9 L1271.2,1328.9 L1273.9,1325.3 L1276.6,1325.9 L1279.3,1324.8 L1282.0,1323.1 L1284.7,1325.4 L1287.4,1321.5 L1290.1,1322.8 L1292.8,1319.4 L1295.5,1318.4 L1298.2,1321.2 L1300.9,1318.7 L1303.6,1316.3 L1306.3,1317.1 L1309.0,1316.6 L1311.4,1316.3 L1313.8,1311.8 L1316.1,1310.7 L1318.5,1312.2 L1322.4,1311.2 L1325.1,1307.7 L1327.8,1307.7 L1330.5,1306.9 L1333.2,1307.5 L1335.9,1306.4 L1337.9,1305.5 L1339.8,1303.4 L1341.8,1300.2 L1343.7,1299.2 L1345.7,1297.3 L1347.6,1295.4 L1349.5,1292.2 L1351.5,1291.7 L1354.1,1289.7 L1356.7,1289.1 L1359.2,1284.0 L1361.8,1285.7 L1363.9,1280.1 L1366.0,1281.5 L1368.0,1278.9 L1370.1,1276.7 L1372.2,1276.8 L1374.3,1273.0 L1376.4,1270.3 L1378.4,1269.8 L1380.5,1268.1 L1382.6,1264.9 L1384.0,1261.6 L1385.4,1259.7 L1386.8,1257.5 L1388.1,1256.4 L1389.5,1252.3 L1390.9,1250.5 L1392.7,1249.2 L1394.5,1246.3 L1396.3,1244.0 L1398.1,1244.0 L1399.8,1242.3 L1401.6,1238.9 L1403.3,1236.7 L1405.0,1233.6 L1406.8,1232.3 L1408.5,1229.6 L1410.2,1229.3 L1412.0,1227.1 L1413.7,1222.7 L1415.4,1224.1 L1417.2,1219.3 L1418.9,1219.3 L1420.6,1217.0 L1422.3,1215.3 L1424.1,1209.7 L1425.8,1208.5 L1427.5,1208.4 L1429.2,1202.1 L1431.3,1200.4 L1433.4,1200.9 L1435.4,1198.7 L1437.5,1198.7 L1439.6,1196.2 L1441.3,1192.9 L1443.1,1192.7 L1444.8,1188.3 L1446.5,1186.1 L1448.3,1184.6 L1450.0,1181.0 L1452.1,1179.2 L1454.2,1178.6 L1456.2,1175.9 L1458.3,1176.8 L1460.4,1174.0 L1461.8,1171.2 L1463.3,1167.3 L1464.7,1166.4 L1466.2,1164.4 L1467.6,1163.1 L1471.2,1159.9 L1473.4,1159.1 L1475.6,1157.3 L1477.7,1153.1 L1479.9,1150.7 L1482.0,1149.6 L1484.0,1149.3 L1486.1,1144.6 L1488.1,1143.5 L1490.2,1142.8 L1492.5,1138.8 L1494.7,1138.2 L1497.0,1139.9 L1499.2,1138.0 L1501.5,1135.5 L1503.6,1132.1 L1505.6,1134.0 L1507.7,1131.6 L1509.7,1130.6 L1511.8,1129.8 L1513.9,1127.4 L1516.0,1123.5 L1518.0,1120.4 L1520.1,1119.1 L1522.2,1118.2 L1524.5,1116.4 L1526.8,1113.3 L1529.1,1111.5 L1530.8,1111.6 L1532.6,1109.6 L1534.3,1106.6 L1536.1,1107.5 L1537.8,1104.0 L1540.0,1099.8 L1542.1,1099.8 L1544.2,1099.9 L1546.4,1096.2 L1548.5,1096.3 L1550.7,1091.7 L1552.6,1091.3 L1554.4,1091.9 L1556.3,1089.1 L1558.1,1087.7 L1560.0,1083.9 L1561.8,1083.5 L1563.7,1082.0 L1565.1,1078.4 L1566.5,1077.6 L1567.8,1074.7 L1569.2,1074.3 L1570.6,1070.0 L1572.5,1067.4 L1574.4,1064.3 L1576.4,1062.5 L1578.3,1063.3 L1580.2,1058.6 L1582.3,1056.7 L1584.5,1055.1 L1586.6,1054.8 L1587.8,1053.9 L1589.0,1050.7 L1590.3,1049.4 L1591.5,1043.9 L1593.9,1045.7 L1596.3,1051.0 L1598.2,1046.9 L1600.0,1046.5 L1601.9,1042.8 L1605.2,1040.7 L1608.4,1040.0 L1611.6,1035.9 L1612.7,1042.4 L1613.7,1044.0 L1614.8,1045.9 L1616.4,1048.8 L1618.0,1050.9 L1619.7,1051.9 L1621.3,1058.0 L1624.1,1057.1 L1626.9,1059.1 L1627.9,1059.7 L1629.0,1063.3 L1630.0,1064.5 L1631.0,1066.4 L1632.9,1073.0 L1634.7,1075.4 L1636.6,1075.7 L1638.2,1081.5 L1639.8,1084.3 L1640.8,1084.5 L1641.8,1088.2 L1642.9,1092.2 L1643.9,1092.6 L1644.9,1097.0 L1645.9,1096.3 L1646.9,1099.4 L1647.9,1103.3 L1648.5,1103.7 L1649.1,1106.7 L1649.7,1111.8 L1650.3,1112.6 L1651.3,1116.4 L1652.3,1116.4 L1653.2,1118.5 L1654.2,1121.8 L1655.2,1123.4 L1655.8,1129.9 L1656.4,1129.9 L1657.0,1134.1 L1657.6,1135.2 L1658.2,1139.5 L1658.9,1141.2 L1659.5,1143.7 L1660.2,1144.7 L1660.8,1147.3 L1661.6,1153.7 L1662.4,1154.8 L1663.2,1157.6 L1663.9,1159.7 L1664.6,1162.5 L1665.3,1164.7 L1666.0,1166.3 L1666.8,1171.4 L1667.5,1172.4 L1668.2,1174.0 L1668.9,1178.8 L1669.6,1178.5 L1670.3,1181.8 L1670.9,1186.7 L1671.6,1186.1 L1672.2,1189.9 L1672.9,1194.1 L1673.5,1196.5 L1674.2,1196.1 L1675.0,1199.4 L1675.8,1203.5 L1676.6,1204.5 L1677.5,1209.5 L1678.3,1208.7 L1679.1,1214.4 L1679.9,1214.9 L1680.9,1216.2 L1681.9,1219.6 L1682.9,1220.6 L1683.9,1225.6 L1684.9,1226.1 L1685.9,1231.4 L1686.9,1232.5 L1687.9,1234.0 L1688.9,1235.9 L1689.9,1240.0 L1690.8,1240.7 L1691.8,1246.1 L1692.8,1245.3 L1693.8,1249.5 L1695.3,1251.7 L1696.9,1252.6 L1698.4,1256.9 L1699.9,1257.4 L1701.5,1260.7 L1703.0,1262.4 L1704.0,1263.6 L1705.0,1266.2 L1706.0,1267.2 L1706.9,1269.9 L1707.9,1275.1 L1708.9,1275.1 L1709.9,1278.9 L1711.4,1278.8 L1713.0,1283.1 L1714.5,1284.5 L1716.0,1287.4 L1717.6,1288.8 L1719.1,1290.1 L1720.8,1293.1 L1722.6,1294.6 L1724.3,1296.1 L1726.0,1300.6 L1727.8,1300.6 L1729.5,1303.1 L1731.2,1307.4 L1732.9,1308.9 L1734.7,1311.5 L1736.4,1313.6 L1738.1,1312.5 L1739.8,1315.2 L1741.7,1316.2 L1743.6,1321.2 L1745.5,1323.3 L1747.5,1324.0 L1749.4,1326.4 L1751.3,1329.6 L1753.6,1331.6 L1755.9,1331.5 L1758.3,1335.9 L1760.6,1335.6 L1762.9,1338.7 L1764.3,1338.9 L1765.7,1340.8 L1767.0,1346.5 L1768.4,1347.9 L1769.8,1350.0 L1772.0,1348.3 L1774.3,1349.5 L1776.5,1351.3 L1778.7,1352.7 L1780.9,1354.4 L1783.2,1355.9 L1785.4,1355.7 L1787.5,1358.6 L1789.6,1361.7 L1791.7,1361.3 L1793.7,1365.9 L1795.8,1366.4 L1797.9,1368.8 L1800.4,1367.3 L1803.0,1368.7 L1805.5,1370.4 L1808.1,1369.5 L1810.6,1368.5 L1813.1,1372.8 L1815.7,1373.1 L1818.2,1371.6 L1820.8,1371.4 L1823.4,1375.8 L1826.0,1375.6 L1828.6,1374.0 L1831.2,1375.7 L1833.8,1376.0 L1836.4,1379.8 L1839.0,1378.2 L1841.6,1382.1 L1844.2,1381.8 L1846.8,1379.3 L1849.4,1382.5 L1852.0,1381.6 L1854.5,1383.6 L1857.1,1384.3 L1859.7,1382.4 L1862.3,1382.0 L1864.9,1386.2 L1867.5,1384.2 L1870.1,1386.8 L1872.7,1386.1 L1875.3,1386.6 L1877.9,1387.4 L1880.5,1386.8 L1883.1,1386.4 L1885.7,1385.0 L1888.3,1388.2 L1890.9,1387.4 L1893.5,1388.2 L1896.1,1390.5 L1898.7,1387.4 L1901.3,1390.6 L1903.9,1387.9 L1906.5,1391.2 L1909.1,1392.1 L1911.7,1390.1 L1914.3,1391.6 L1916.9,1393.6 L1919.5,1392.3 L1922.1,1392.1 L1924.7,1390.9 L1927.3,1390.3 L1929.9,1391.7 L1932.5,1392.1 L1935.1,1391.4 L1937.7,1392.0 L1940.3,1391.5 L1942.9,1394.1 L1945.5,1394.2 L1948.1,1392.4 L1950.7,1392.6 L1953.3,1394.0 L1955.9,1393.9 L1958.5,1396.2 L1961.1,1393.4 L1963.7,1392.9 L1966.3,1395.2 L1968.9,1391.7 L1971.5,1393.3 L1974.1,1392.0 L1976.7,1393.9 L1979.3,1392.5 L1981.9,1393.1 L1984.6,1389.9 L1987.3,1391.5 L1990.1,1390.6 L1992.8,1389.4 L1995.1,1389.1 L1997.4,1387.8 L1999.8,1383.0 L2002.1,1382.1 L2004.3,1381.2 L2006.5,1379.3 L2008.8,1377.4 L2011.0,1377.2 L2013.2,1375.6 L2015.0,1379.6 L2016.9,1380.3 L2018.8,1380.7 L2020.6,1383.4 L2023.2,1384.8 L2025.8,1385.5 L2028.4,1386.1 L2031.0,1386.7 L2033.6,1387.3 L2036.2,1388.0 L2038.8,1388.6 L2041.4,1389.2 L2043.9,1389.7 L2046.3,1390.2 L2048.8,1390.7 L2051.2,1391.2 L2053.7,1391.7 L2056.2,1392.1 L2058.6,1392.6 L2061.1,1393.1 L2063.5,1393.6 L2066.0,1394.1 L2068.5,1394.7 L2070.9,1395.3 L2073.4,1395.9 L2075.8,1396.5 L2078.3,1397.2 L2080.8,1397.8 L2083.2,1398.4 L2085.7,1399.0 L2088.1,1399.6 L2090.6,1400.2 L2093.1,1400.7 L2095.5,1401.2 L2098.0,1401.7 L2100.4,1402.2 L2102.9,1402.7 L2105.4,1403.1 L2107.8,1403.6 L2110.3,1404.1 L2112.7,1404.6 L2115.2,1405.0 L2117.7,1405.0 L2120.1,1404.6 L2122.6,1404.7 L2125.0,1404.9 L2127.5,1409.8 L2129.9,1407.8 L2132.4,1403.9 L2134.9,1405.8 L2137.3,1406.0 L2138.1,1406.6 L2138.9,1407.1 L2139.7,1411.3 L2142.2,1409.5 L2144.6,1407.0 L2147.1,1407.0 L2149.5,1403.2 L2152.0,1405.7 L2154.5,1405.8 L2156.9,1406.9 L2159.4,1409.5 L2162.5,1408.7 L2165.6,1407.4 L2168.6,1407.8 L2171.7,1407.8 L2174.5,1406.2 L2177.2,1408.5 L2180.0,1407.7 L2182.8,1404.2 L2185.2,1403.1 L2187.7,1404.5 L2190.2,1404.8 L2192.6,1404.6 L2195.6,1400.0 L2198.7,1401.5 L2202.1,1402.3 L2205.5,1401.4"/>
</g>
<g stroke="#000" stroke-width="3" stroke-linecap="round">
<line x1="1054.5" y1="372" x2="1054.5" y2="1529"/>
<line x1="1471.3" y1="370" x2="1471.3" y2="1529"/>
<line x1="1616.6" y1="178" x2="1617.8" y2="1529"/>
</g>
<g stroke="#000" stroke-width="4.6" stroke-linecap="round">
<line x1="164.5" y1="22" x2="164.5" y2="1533.5" stroke-linecap="butt" stroke-width="5"/>
<line x1="162" y1="1533.5" x2="2207" y2="1533.5" stroke-linecap="butt" stroke-width="5"/>
<line x1="164.50" y1="1533.5" x2="164.50" y2="1547.5" /><line x1="349.95" y1="1533.5" x2="349.95" y2="1562.5" /><line x1="535.40" y1="1533.5" x2="535.40" y2="1547.5" /><line x1="720.85" y1="1533.5" x2="720.85" y2="1562.5" /><line x1="906.30" y1="1533.5" x2="906.30" y2="1547.5" /><line x1="1091.75" y1="1533.5" x2="1091.75" y2="1562.5" /><line x1="1277.20" y1="1533.5" x2="1277.20" y2="1547.5" /><line x1="1462.65" y1="1533.5" x2="1462.65" y2="1562.5" /><line x1="1648.10" y1="1533.5" x2="1648.10" y2="1547.5" /><line x1="1833.55" y1="1533.5" x2="1833.55" y2="1562.5" /><line x1="2019.00" y1="1533.5" x2="2019.00" y2="1547.5" /><line x1="2204.45" y1="1533.5" x2="2204.45" y2="1562.5" />
</g>
<text x="349.95" y="1649.5" text-anchor="middle" class="tl">16</text><text x="720.85" y="1649.5" text-anchor="middle" class="tl">18</text><text x="1091.75" y="1649.5" text-anchor="middle" class="tl">20</text><text x="1462.65" y="1649.5" text-anchor="middle" class="tl">22</text><text x="1833.55" y="1649.5" text-anchor="middle" class="tl">24</text><text x="2204.45" y="1649.5" text-anchor="middle" class="tl">26</text>
<text transform="translate(1282,1808.8) scale(1.039,1)" text-anchor="middle" style="font-size:96px">2θ (deg)</text>
<text class="cl" transform="translate(178.1,599) scale(0.9655,1)">PBS</text>
<text class="cl" transform="translate(170.7,1001) scale(0.987,1)">PBS-HSO0.5</text>
<text class="cl" transform="translate(174,1385.2) scale(0.983,1)">PBS-HSO1</text>
<text class="pk" transform="translate(1055.5,353) scale(0.964,1)" text-anchor="middle">(020)</text>
<text class="pk" transform="translate(1428,318.5) scale(0.964,1)" text-anchor="middle">(021)</text>
<text class="pk" transform="translate(1627.5,159.3) scale(0.988,1)" text-anchor="middle">(110)</text>
<text transform="translate(88.9,891) rotate(-90) scale(1.0865,1)" style="font-size:95px">Intensity</text>
<line x1="112.5" y1="922.7" x2="112.5" y2="568" stroke="#000" stroke-width="2.8"/>
<polygon points="113,532.9 101.9,571.6 122.9,571.6" fill="#000"/>
</svg>
</body></html>
